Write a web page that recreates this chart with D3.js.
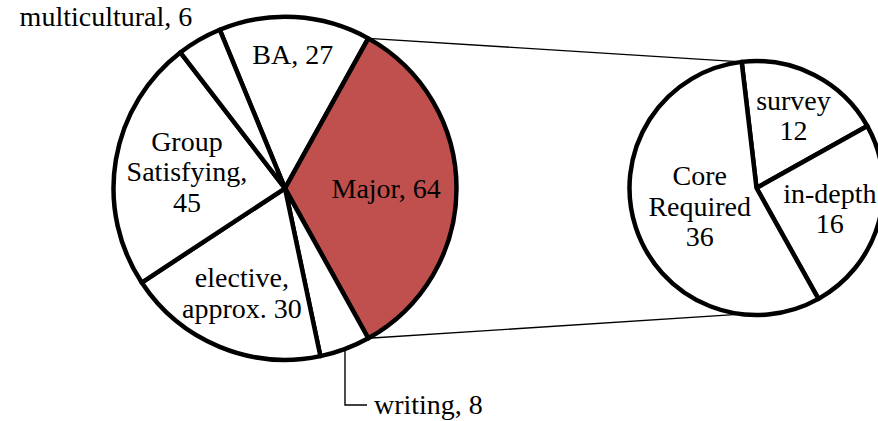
<!DOCTYPE html>
<html>
<head>
<meta charset="utf-8">
<script src="https://cdn.jsdelivr.net/npm/d3@7"></script>
<style>
	body { margin: 0; background: #fff; }
	svg text { font-family: 'Liberation Serif', 'Times New Roman', serif; font-size: 28px; fill: #000; }
</style>
</head>
<body>
<svg id="chart" width="878" height="421"></svg>
<script>

// main pie (Major is split out into the second pie)
var mainNames = [ 'BA', 'Major', 'writing', 'elective', 'Group Satisfying', 'multicultural' ];
var mainValues = [ 27, 64, 9, 36, 45, 8 ];
var mainLabels = [ [ 'BA, 27' ], [ 'Major, 64' ], [ 'writing, 8' ], [ 'elective,', 'approx. 30' ], [ 'Group', 'Satisfying,', '45' ], [ 'multicultural, 6' ] ];

// second pie (breakdown of Major)
var subNames = [ 'survey', 'in-depth', 'Core Required' ];
var subValues = [ 12, 16, 36 ];
var subLabels = [ [ 'survey', '12' ], [ 'in-depth', '16' ], [ 'Core', 'Required', '36' ] ];

var splitName = 'Major';

// layout
var main = { cx: 285, cy: 188.3, r: 171.5 };
var sub = { cx: 756.5, cy: 188, r: 127, start: -6.7 };
var lineHeight = 30.5;
var labelRadius = {
	'BA': 0.78, 'Major': 0.59, 'elective': 0.66, 'Group Satisfying': 0.58,
	'survey': 0.64, 'in-depth': 0.6, 'Core Required': 0.47
};

var rad = Math.PI / 180;
var svg = d3.select( '#chart' );

// rotate the main pie so the split slice is centred on 3 o'clock
var total = d3.sum( mainValues );
var splitIndex = mainNames.indexOf( splitName );
var before = d3.sum( mainValues.slice( 0, splitIndex ) ) + mainValues[splitIndex] / 2;
var mainStart = Math.PI / 2 - before / total * 2 * Math.PI;

var mainPie = d3.pie().sort( null ).value( function ( d ) { return d.value; } )
	.startAngle( mainStart ).endAngle( mainStart + 2 * Math.PI );
var subPie = d3.pie().sort( null ).value( function ( d ) { return d.value; } )
	.startAngle( sub.start * rad ).endAngle( sub.start * rad + 2 * Math.PI );

var mainData = mainPie( mainNames.map( function ( n, i ) {
	return { name: n, value: mainValues[i], label: mainLabels[i] };
} ) );
var subData = subPie( subNames.map( function ( n, i ) {
	return { name: n, value: subValues[i], label: subLabels[i] };
} ) );

var mainArc = d3.arc().innerRadius( 0 ).outerRadius( main.r );
var subArc = d3.arc().innerRadius( 0 ).outerRadius( sub.r );

var polar = function ( c, r, a ) {
	return [ c.cx + r * Math.sin( a ), c.cy - r * Math.cos( a ) ];
};

// connector lines from the split slice to the second pie
var split = mainData[splitIndex];
var connectors = [
	[ polar( main, main.r, split.startAngle ), polar( sub, sub.r, sub.start * rad ) ],
	[ polar( main, main.r, split.endAngle ), polar( sub, sub.r, Math.PI - sub.start * rad ) ]
];

svg.append( 'g' ).selectAll( 'line' )
	.data( connectors )
	.enter()
	.append( 'line' )
	.attr( 'x1', function ( d ) { return d[0][0]; } )
	.attr( 'y1', function ( d ) { return d[0][1]; } )
	.attr( 'x2', function ( d ) { return d[1][0]; } )
	.attr( 'y2', function ( d ) { return d[1][1]; } )
	.attr( 'stroke', '#000' )
	.attr( 'stroke-width', 1.4 );

var drawPie = function ( data, arc, c ) {
	var g = svg.append( 'g' )
		.attr( 'transform', 'translate(' + c.cx + ',' + c.cy + ')' );
	g.selectAll( 'path' )
		.data( data )
		.enter()
		.append( 'path' )
		.attr( 'd', arc )
		.attr( 'fill', function ( d ) { return d.data.name === splitName ? '#C0504D' : '#fff'; } )
		.attr( 'stroke', '#000' )
		.attr( 'stroke-width', 4.5 )
		.attr( 'stroke-linejoin', 'round' );
	return g;
};

drawPie( mainData, mainArc, main );
drawPie( subData, subArc, sub );

var writeLabel = function ( x, y, lines, anchor ) {
	var t = svg.append( 'text' )
		.attr( 'text-anchor', anchor || 'middle' );
	lines.forEach( function ( s, i ) {
		t.append( 'tspan' )
			.attr( 'x', x )
			.attr( 'y', y + ( i - ( lines.length - 1 ) / 2 ) * lineHeight + 9.5 )
			.text( s );
	} );
};

var insideLabels = function ( data, c ) {
	data.forEach( function ( d ) {
		var f = labelRadius[d.data.name];
		if ( f === undefined ) return;
		var a = ( d.startAngle + d.endAngle ) / 2;
		var p = polar( c, c.r * f, a );
		writeLabel( p[0], p[1], d.data.label );
	} );
};

insideLabels( mainData, main );
insideLabels( subData, sub );

// small slices: labels outside
mainData.forEach( function ( d ) {
	var a = ( d.startAngle + d.endAngle ) / 2;
	var edge = polar( main, main.r, a );
	if ( d.data.name === 'writing' ) {
		var ly = edge[1] + 56;
		svg.append( 'path' )
			.attr( 'd', d3.line()( [ edge, [ edge[0], ly ], [ edge[0] + 22, ly ] ] ) )
			.attr( 'fill', 'none' )
			.attr( 'stroke', '#000' )
			.attr( 'stroke-width', 1.4 );
		writeLabel( edge[0] + 29, ly, d.data.label, 'start' );
	} else if ( d.data.name === 'multicultural' ) {
		writeLabel( edge[0] - 7, edge[1] - 23, d.data.label, 'end' );
	}
} );

</script>
</body>
</html>
